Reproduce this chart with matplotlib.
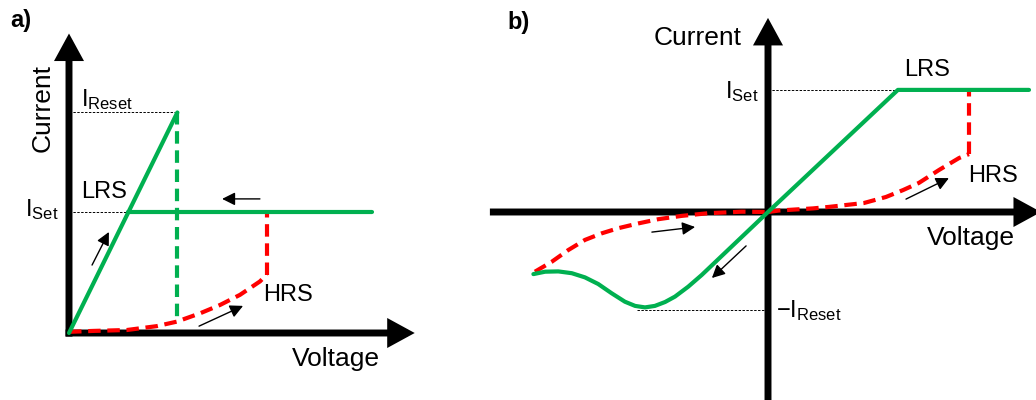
import numpy as np
import matplotlib.pyplot as plt

plt.rcParams['font.family'] = 'Liberation Sans'
plt.rcParams['mathtext.fontset'] = 'custom'
plt.rcParams['mathtext.rm'] = 'Liberation Sans'

GREEN = '#00B050'
RED = '#FF0000'

# ---- panel a): unipolar switching ----
a_i_reset = 7.4
a_v_reset = 3.15
a_i_set = 4.05
a_v_lrs_end = 8.8
a_i_reset_drop = 0.37
a_v_set = 5.75
# HRS branch on the way up to the set voltage
a_hrs_v = [0.0, 0.71, 1.68, 2.55, 3.13, 3.81, 4.39, 4.97, 5.55, 5.75]
a_hrs_i = [0.04, 0.07, 0.1, 0.23, 0.38, 0.66, 0.94, 1.28, 1.73, 1.96]

# ---- panel b): bipolar switching ----
b_i_set = 4.07
b_v_knee = 4.33
b_v_lrs_end = 8.7
b_v_set = 6.7
b_i_reset = -3.18
b_v_reset = -4.1
# HRS branch, positive side
b_hrs_pos_v = [0.0, 0.37, 1.5, 2.03, 3.2, 3.93, 4.5, 5.03, 5.7, 6.37, 6.7]
b_hrs_pos_i = [0.0, 0.05, 0.12, 0.17, 0.3, 0.5, 0.73, 0.97, 1.4, 1.8, 1.93]
# HRS branch, negative side (back towards the origin)
b_hrs_neg_v = [-7.77, -7.21, -6.66, -6.1, -5.54, -4.99, -4.32, -3.66, -2.88, -1.99, -0.88, 0.0]
b_hrs_neg_i = [-1.99, -1.66, -1.27, -0.93, -0.71, -0.54, -0.38, -0.24, -0.13, -0.04, 0.01, 0.0]
# LRS branch running into reset
b_lrs_v = [8.7, 4.33, 0.0, -2.21, -2.66, -3.1, -3.43, -3.77, -4.1, -4.43, -4.77,
           -5.21, -5.66, -6.1, -6.54, -6.99, -7.43, -7.82]
b_lrs_i = [4.07, 4.07, 0.0, -2.1, -2.49, -2.82, -3.0, -3.13, -3.18, -3.13, -2.99,
           -2.71, -2.4, -2.18, -2.04, -1.98, -1.99, -2.07]

fig = plt.figure(figsize=(10.36, 4.0), dpi=100)
ax_a = fig.add_axes([0, 0, 420 / 1036, 1])
ax_b = fig.add_axes([480 / 1036, 0, 556 / 1036, 1])
for ax in (ax_a, ax_b):
    ax.set_axis_off()

ax_a.set_xlim(-69 / 34.4, 351 / 34.4)
ax_a.set_ylim(-67 / 29.8, 333 / 29.8)
ax_b.set_xlim(-288 / 30, 268 / 30)
ax_b.set_ylim(-188 / 30, 212 / 30)

curve = dict(lw=3.0, solid_capstyle='round', solid_joinstyle='round', clip_on=False, zorder=3)
dashed = dict(lw=3.0, linestyle=(0, (3, 1.6)), dash_capstyle='butt', clip_on=False, zorder=3)
guide = dict(color='black', lw=0.7, linestyle=(0, (2.5, 1.5)), clip_on=False, zorder=2)


def axis_arrow(ax, start, tip):
    ax.annotate('', xy=tip, xytext=start, annotation_clip=False, zorder=1,
                arrowprops=dict(arrowstyle='-|>,head_length=0.55,head_width=0.3',
                                mutation_scale=22, lw=5, color='black',
                                shrinkA=0, shrinkB=0, capstyle='butt',
                                joinstyle='miter'))


def small_arrow(ax, start, tip):
    ax.annotate('', xy=tip, xytext=start, annotation_clip=False, zorder=4,
                arrowprops=dict(arrowstyle='-|>,head_length=0.6,head_width=0.3',
                                mutation_scale=13, lw=1.0, color='black',
                                shrinkA=0, shrinkB=0))


# panel a
ax = ax_a
axis_arrow(ax, (0, -0.12), (0, 10.05))
axis_arrow(ax, (-0.1, 0), (10.05, 0))
ax.plot([0, a_v_reset], [a_i_reset, a_i_reset], **guide)
ax.plot([0, a_i_set / a_i_reset * a_v_reset], [a_i_set, a_i_set], **guide)
ax.plot(a_hrs_v, a_hrs_i, color=RED, **dashed)
ax.plot([a_v_set, a_v_set], [a_hrs_i[-1], a_i_set], color=RED, **dashed)
ax.plot([a_v_reset, a_v_reset], [a_i_reset, a_i_reset_drop], color=GREEN, **dashed)
ax.plot([0, a_v_reset], [0, a_i_reset], color=GREEN, **curve)
ax.plot([a_i_set / a_i_reset * a_v_reset, a_v_lrs_end], [a_i_set, a_i_set],
        color=GREEN, **curve)
small_arrow(ax, (0.67, 2.28), (1.16, 3.39))
small_arrow(ax, (5.55, 4.5), (4.45, 4.5))
small_arrow(ax, (3.78, 0.23), (5.06, 0.91))

ax.text(0.35, 7.85, r'$\mathregular{I_{Reset}}$', fontsize=17, ha='left', va='center')
ax.text(0.35, 4.73, 'LRS', fontsize=17, ha='left', va='center')
ax.text(-0.3, 4.15, r'$\mathregular{I_{Set}}$', fontsize=17, ha='right', va='center')
ax.text(5.64, 1.28, 'HRS', fontsize=17, ha='left', va='center')
ax.text(-0.76, 7.55, 'Current', fontsize=19, rotation=90, ha='center', va='center')
ax.text(7.76, -0.87, 'Voltage', fontsize=19, ha='center', va='center')
ax.text(10 / 420, 1 - 20 / 400, 'a)', transform=ax.transAxes, fontsize=17,
        fontweight='bold', ha='left', va='center')

# panel b
ax = ax_b
axis_arrow(ax, (0, -6.6), (0, 6.47))
axis_arrow(ax, (-9.27, 0), (9.1, 0))
ax.plot([0, b_v_knee], [b_i_set, b_i_set], **guide)
ax.plot([-4.37, 0], [-3.27, -3.27], **guide)
ax.plot(b_hrs_neg_v, b_hrs_neg_i, color=RED, **dashed)
ax.plot(b_hrs_pos_v, b_hrs_pos_i, color=RED, **dashed)
ax.plot([b_v_set, b_v_set], [b_hrs_pos_i[-1], b_i_set], color=RED, **dashed)
ax.plot(b_lrs_v, b_lrs_i, color=GREEN, **curve)
small_arrow(ax, (-3.87, -0.67), (-2.43, -0.5))
small_arrow(ax, (-0.73, -1.13), (-1.87, -2.2))
small_arrow(ax, (4.6, 0.43), (6.03, 1.13))

ax.text(-2.33, 5.8, 'Current', fontsize=19, ha='center', va='center')
ax.text(-0.33, 4.0, r'$\mathregular{I_{Set}}$', fontsize=17, ha='right', va='center')
ax.text(5.3, 4.73, 'LRS', fontsize=17, ha='center', va='center')
ax.text(6.67, 1.2, 'HRS', fontsize=17, ha='left', va='center')
ax.text(6.77, -0.87, 'Voltage', fontsize=19, ha='center', va='center')
ax.text(0.27, -3.3, r'$\mathregular{-I_{Reset}}$', fontsize=17, ha='left', va='center')
ax.text(27 / 556, 1 - 23 / 400, 'b)', transform=ax.transAxes, fontsize=17,
        fontweight='bold', ha='left', va='center')

fig.savefig('out.png', dpi=100)
